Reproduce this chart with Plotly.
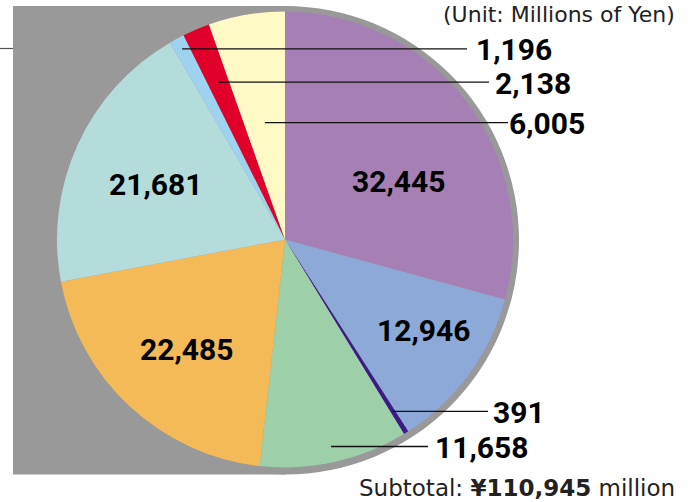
import math
import plotly.graph_objects as go

# ---- data ----
values = [32445, 12946, 391, 11658, 22485, 21681, 1196, 2138, 6005]
value_labels = ["32,445", "12,946", "391", "11,658", "22,485", "21,681", "1,196", "2,138", "6,005"]
colors = ["#A680B5", "#8DA9D7", "#3C1A88", "#9DD0A9", "#F4BA57",
          "#B4DCDB", "#9FD2EF", "#E0002A", "#FFF9C6"]
subtotal_text = "¥110,945"
unit_text = "(Unit: Millions of Yen)"

W, H = 693, 502
CX, CY, R = 285, 239.5, 228          # pie centre / radius in pixels
GR = 234                              # grey backing radius

def px(x):
    return x / W

def py(y):
    return (H - y) / H

# inside label centres (pixels)
inside_pos = {0: (398, 181), 1: (423, 330), 4: (186, 349), 5: (155.5, 184)}
# outside label placement: slice index -> (radius fraction of leader start, line end x, text x)
leader = {2: (0.89, 488, 491), 3: (0.93, 428, 433), 6: (0.95, 467, 474),
          7: (0.75, 489, 493), 8: (0.52, 508, 507)}

fig = go.Figure()
fig.add_trace(go.Pie(
    values=values,
    textinfo="none",
    sort=False,
    direction="clockwise",
    rotation=0,
    marker=dict(colors=colors, line=dict(width=0)),
    domain=dict(x=[px(CX - R), px(CX + R)], y=[py(CY + R), py(CY - R)]),
    hoverinfo="skip",
    showlegend=False,
))

shapes = []
# grey backing: rectangle on the left half + circle
shapes.append(dict(type="rect", xref="paper", yref="paper",
                   x0=px(13), x1=px(CX), y0=py(CY + GR + 1), y1=py(CY - GR + 0.5),
                   fillcolor="#999999", line=dict(width=0), layer="below"))
shapes.append(dict(type="circle", xref="paper", yref="paper",
                   x0=px(CX - GR), x1=px(CX + GR), y0=py(CY + GR + 1), y1=py(CY - GR + 0.5),
                   fillcolor="#999999", line=dict(width=0), layer="below"))
# small stray tick at the top-left
shapes.append(dict(type="line", xref="paper", yref="paper",
                   x0=px(0), x1=px(13), y0=py(48.5), y1=py(48.5),
                   line=dict(color="#555555", width=1.2)))

label_font = dict(family="Roboto", size=30, color="#000000")
annotations = []
total = sum(values)
cum = 0
for i, v in enumerate(values):
    a0 = cum / total * 2 * math.pi
    cum += v
    a1 = cum / total * 2 * math.pi
    if i in inside_pos:
        x, y = inside_pos[i]
        annotations.append(dict(xref="paper", yref="paper", x=px(x), y=py(y),
                                xanchor="center", yanchor="middle", showarrow=False,
                                text="<b>" + value_labels[i] + "</b>", font=label_font))
    if i in leader:
        frac, xend, xtext = leader[i]
        mid = (a0 + a1) / 2
        sx = CX + frac * R * math.sin(mid)
        sy = CY - frac * R * math.cos(mid)
        shapes.append(dict(type="line", xref="paper", yref="paper",
                           x0=px(sx), x1=px(xend), y0=py(sy), y1=py(sy),
                           line=dict(color="#111111", width=1.3)))
        annotations.append(dict(xref="paper", yref="paper", x=px(xtext), y=py(sy + 1),
                                xanchor="left", yanchor="middle", showarrow=False,
                                text="<b>" + value_labels[i] + "</b>", font=label_font))

annotations.append(dict(xref="paper", yref="paper", x=px(676), y=py(0.5),
                        xanchor="right", yanchor="top", showarrow=False, borderpad=0,
                        text=unit_text,
                        font=dict(family="DejaVu Sans", size=22, color="#222222")))
annotations.append(dict(xref="paper", yref="paper", x=px(677), y=py(488),
                        xanchor="right", yanchor="middle", showarrow=False,
                        text="Subtotal: <b>" + subtotal_text + "</b> million",
                        font=dict(family="DejaVu Sans", size=23, color="#222222")))

fig.update_layout(
    width=W, height=H,
    margin=dict(l=0, r=0, t=0, b=0),
    paper_bgcolor="#FFFFFF",
    plot_bgcolor="#FFFFFF",
    shapes=shapes,
    annotations=annotations,
)

fig.write_html("out.html", config={"displayModeBar": False},
               post_script="document.body.style.margin='0px';")
